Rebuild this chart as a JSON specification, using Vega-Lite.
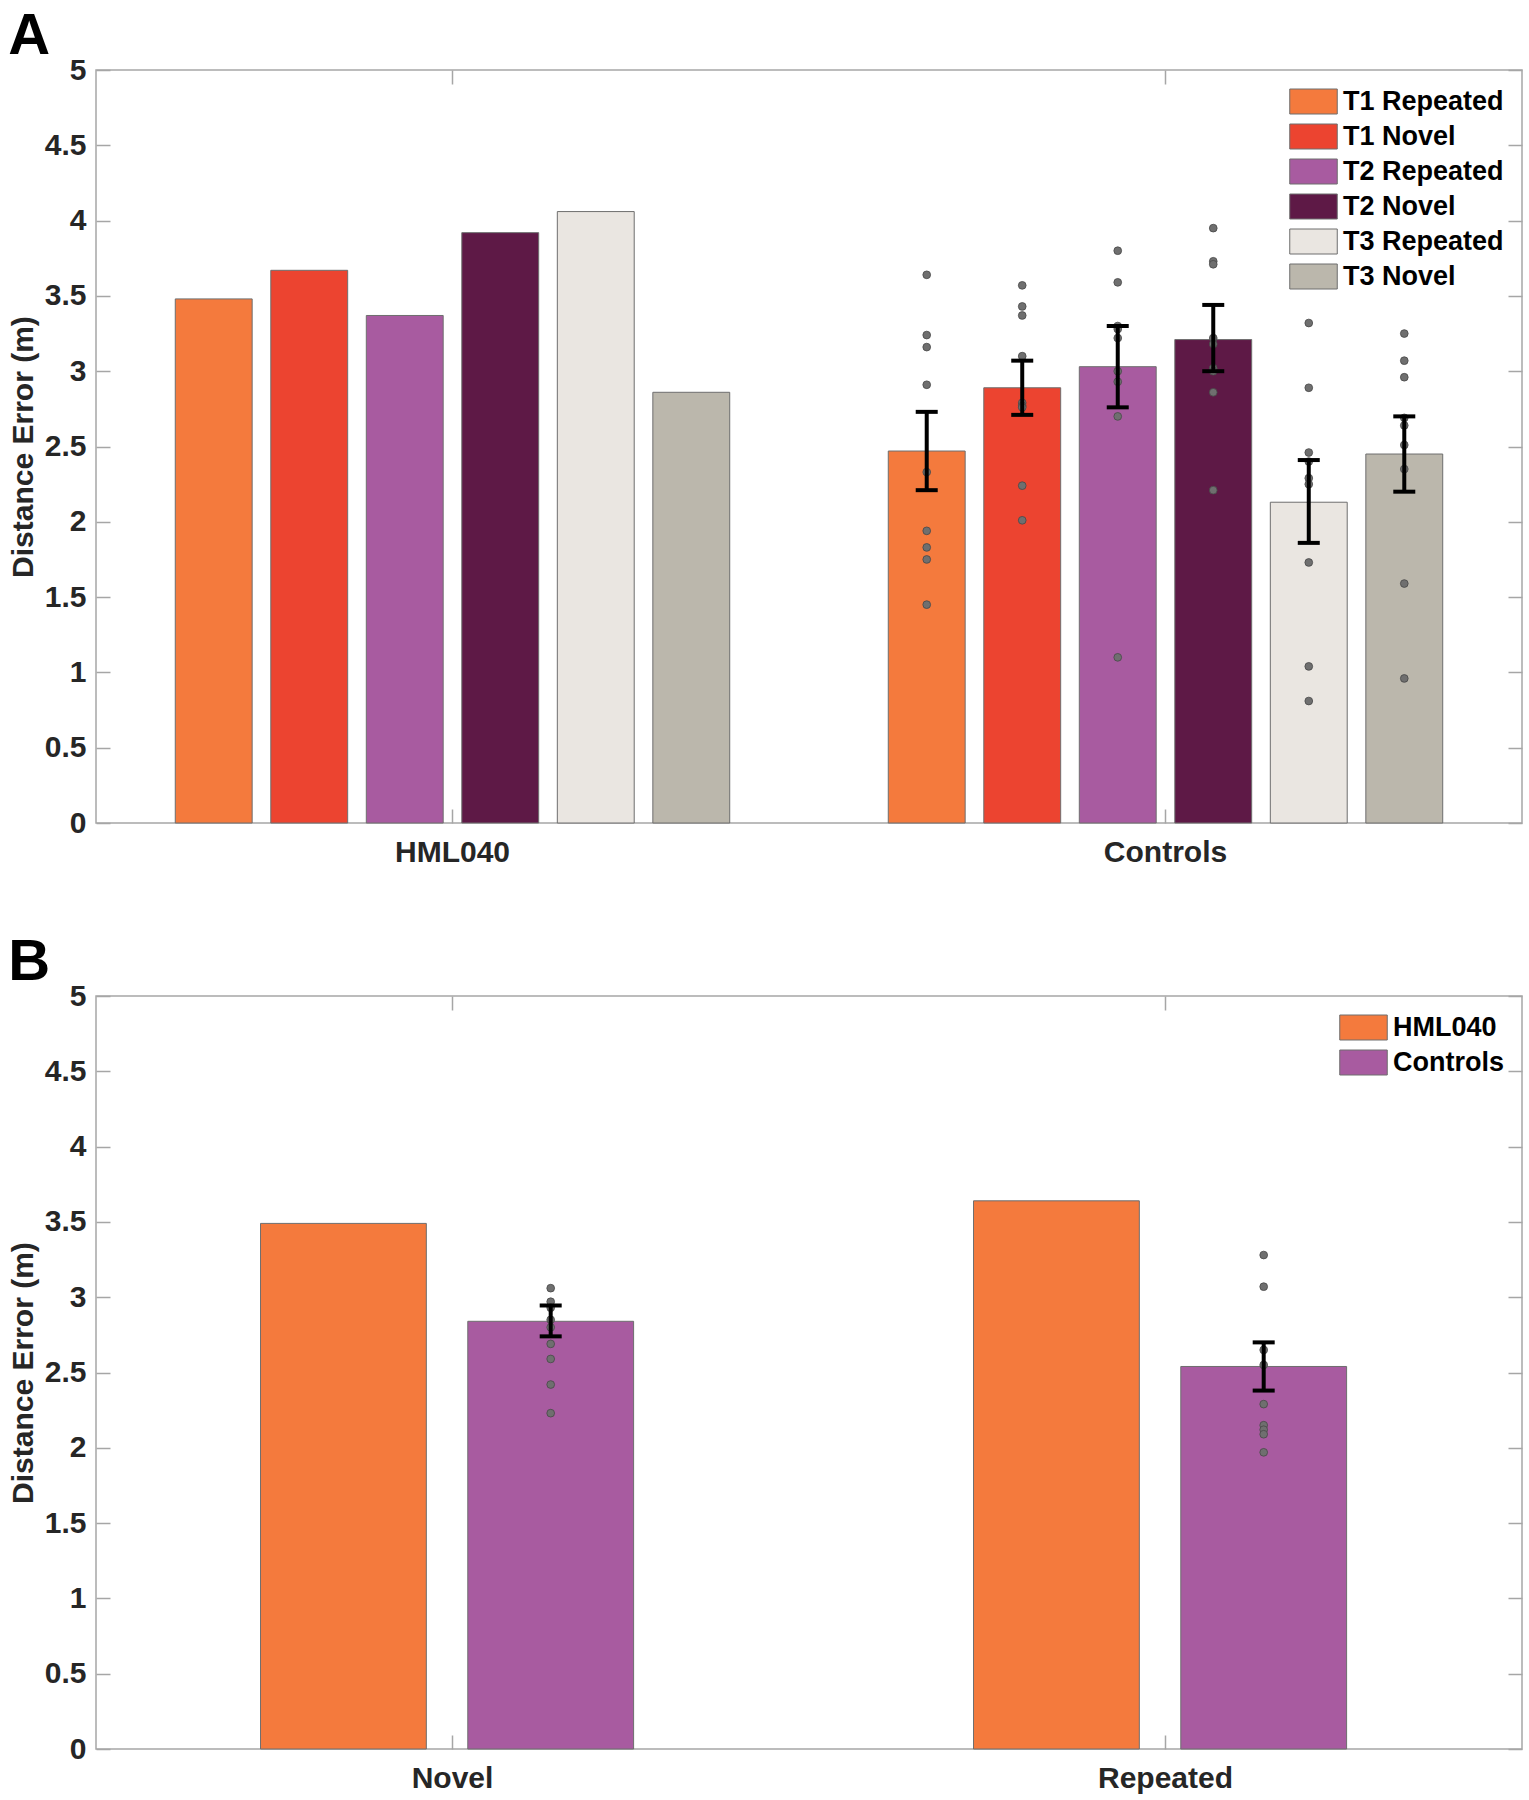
{
  "$schema": "https://vega.github.io/schema/vega-lite/v6.json",
  "padding": {"left": 7, "top": 7, "right": 5, "bottom": 4},
  "background": "white",
  "spacing": 65,
  "config": {
    "font": "Liberation Sans",
    "view": {"stroke": "#a6a6a6", "strokeWidth": 1.5},
    "axis": {"labelFont": "Liberation Sans", "labelFontWeight": "bold", "labelFontSize": 30, "labelColor": "#262626", "titleFont": "Liberation Sans", "titleFontSize": 30, "titleFontWeight": "bold", "titleColor": "#262626", "tickColor": "#a6a6a6", "tickWidth": 1.5, "grid": false, "domain": false},
    "title": {"font": "Liberation Sans", "fontSize": 58, "fontWeight": "bold", "anchor": "start", "frame": "bounds", "color": "#000000", "baseline": "alphabetic", "offset": -11},
    "legend": {"labelFont": "Liberation Sans", "labelFontSize": 27, "labelFontWeight": "bold", "labelColor": "#000000", "labelLimit": 0, "symbolType": "M-1.9,-1H1.9V1H-1.9Z", "symbolSize": 625, "symbolStrokeColor": "#6e6e6e", "symbolStrokeWidth": 1, "labelOffset": 16, "rowPadding": 6, "padding": 0, "offset": 18, "orient": "top-right"}
  },
  "resolve": {"scale": {"color": "independent", "xOffset": "independent"}, "legend": {"color": "independent"}},
  "datasets": {
    "a_bars": [
      {"subject": "HML040", "trial": "T1 Repeated", "mean": 3.48},
      {"subject": "HML040", "trial": "T1 Novel", "mean": 3.67},
      {"subject": "HML040", "trial": "T2 Repeated", "mean": 3.37},
      {"subject": "HML040", "trial": "T2 Novel", "mean": 3.92},
      {"subject": "HML040", "trial": "T3 Repeated", "mean": 4.06},
      {"subject": "HML040", "trial": "T3 Novel", "mean": 2.86},
      {"subject": "Controls", "trial": "T1 Repeated", "mean": 2.47},
      {"subject": "Controls", "trial": "T1 Novel", "mean": 2.89},
      {"subject": "Controls", "trial": "T2 Repeated", "mean": 3.03},
      {"subject": "Controls", "trial": "T2 Novel", "mean": 3.21},
      {"subject": "Controls", "trial": "T3 Repeated", "mean": 2.13},
      {"subject": "Controls", "trial": "T3 Novel", "mean": 2.45}
    ],
    "a_err": [
      {"subject": "Controls", "trial": "T1 Repeated", "lo": 2.21, "hi": 2.73},
      {"subject": "Controls", "trial": "T1 Novel", "lo": 2.71, "hi": 3.07},
      {"subject": "Controls", "trial": "T2 Repeated", "lo": 2.76, "hi": 3.30},
      {"subject": "Controls", "trial": "T2 Novel", "lo": 3.00, "hi": 3.44},
      {"subject": "Controls", "trial": "T3 Repeated", "lo": 1.86, "hi": 2.41},
      {"subject": "Controls", "trial": "T3 Novel", "lo": 2.20, "hi": 2.70}
    ],
    "a_pts": [
      {"subject": "Controls", "trial": "T1 Repeated", "value": 3.64},
      {"subject": "Controls", "trial": "T1 Repeated", "value": 3.24},
      {"subject": "Controls", "trial": "T1 Repeated", "value": 3.16},
      {"subject": "Controls", "trial": "T1 Repeated", "value": 2.91},
      {"subject": "Controls", "trial": "T1 Repeated", "value": 2.33},
      {"subject": "Controls", "trial": "T1 Repeated", "value": 1.94},
      {"subject": "Controls", "trial": "T1 Repeated", "value": 1.83},
      {"subject": "Controls", "trial": "T1 Repeated", "value": 1.75},
      {"subject": "Controls", "trial": "T1 Repeated", "value": 1.45},
      {"subject": "Controls", "trial": "T1 Novel", "value": 3.57},
      {"subject": "Controls", "trial": "T1 Novel", "value": 3.43},
      {"subject": "Controls", "trial": "T1 Novel", "value": 3.37},
      {"subject": "Controls", "trial": "T1 Novel", "value": 3.10},
      {"subject": "Controls", "trial": "T1 Novel", "value": 2.79},
      {"subject": "Controls", "trial": "T1 Novel", "value": 2.77},
      {"subject": "Controls", "trial": "T1 Novel", "value": 2.76},
      {"subject": "Controls", "trial": "T1 Novel", "value": 2.24},
      {"subject": "Controls", "trial": "T1 Novel", "value": 2.01},
      {"subject": "Controls", "trial": "T2 Repeated", "value": 3.80},
      {"subject": "Controls", "trial": "T2 Repeated", "value": 3.59},
      {"subject": "Controls", "trial": "T2 Repeated", "value": 3.30},
      {"subject": "Controls", "trial": "T2 Repeated", "value": 3.28},
      {"subject": "Controls", "trial": "T2 Repeated", "value": 3.22},
      {"subject": "Controls", "trial": "T2 Repeated", "value": 3.00},
      {"subject": "Controls", "trial": "T2 Repeated", "value": 2.93},
      {"subject": "Controls", "trial": "T2 Repeated", "value": 2.70},
      {"subject": "Controls", "trial": "T2 Repeated", "value": 1.10},
      {"subject": "Controls", "trial": "T2 Novel", "value": 3.95},
      {"subject": "Controls", "trial": "T2 Novel", "value": 3.73},
      {"subject": "Controls", "trial": "T2 Novel", "value": 3.71},
      {"subject": "Controls", "trial": "T2 Novel", "value": 3.22},
      {"subject": "Controls", "trial": "T2 Novel", "value": 3.18},
      {"subject": "Controls", "trial": "T2 Novel", "value": 3.02},
      {"subject": "Controls", "trial": "T2 Novel", "value": 3.00},
      {"subject": "Controls", "trial": "T2 Novel", "value": 2.86},
      {"subject": "Controls", "trial": "T2 Novel", "value": 2.21},
      {"subject": "Controls", "trial": "T3 Repeated", "value": 3.32},
      {"subject": "Controls", "trial": "T3 Repeated", "value": 2.89},
      {"subject": "Controls", "trial": "T3 Repeated", "value": 2.46},
      {"subject": "Controls", "trial": "T3 Repeated", "value": 2.40},
      {"subject": "Controls", "trial": "T3 Repeated", "value": 2.29},
      {"subject": "Controls", "trial": "T3 Repeated", "value": 2.25},
      {"subject": "Controls", "trial": "T3 Repeated", "value": 1.73},
      {"subject": "Controls", "trial": "T3 Repeated", "value": 1.04},
      {"subject": "Controls", "trial": "T3 Repeated", "value": 0.81},
      {"subject": "Controls", "trial": "T3 Novel", "value": 3.25},
      {"subject": "Controls", "trial": "T3 Novel", "value": 3.07},
      {"subject": "Controls", "trial": "T3 Novel", "value": 2.96},
      {"subject": "Controls", "trial": "T3 Novel", "value": 2.69},
      {"subject": "Controls", "trial": "T3 Novel", "value": 2.64},
      {"subject": "Controls", "trial": "T3 Novel", "value": 2.51},
      {"subject": "Controls", "trial": "T3 Novel", "value": 2.35},
      {"subject": "Controls", "trial": "T3 Novel", "value": 1.59},
      {"subject": "Controls", "trial": "T3 Novel", "value": 0.96}
    ],
    "b_bars": [
      {"type": "Novel", "subject": "HML040", "mean": 3.49},
      {"type": "Novel", "subject": "Controls", "mean": 2.84},
      {"type": "Repeated", "subject": "HML040", "mean": 3.64},
      {"type": "Repeated", "subject": "Controls", "mean": 2.54}
    ],
    "b_err": [
      {"type": "Novel", "subject": "Controls", "lo": 2.74, "hi": 2.945},
      {"type": "Repeated", "subject": "Controls", "lo": 2.38, "hi": 2.70}
    ],
    "b_pts": [
      {"type": "Novel", "subject": "Controls", "value": 3.06},
      {"type": "Novel", "subject": "Controls", "value": 2.97},
      {"type": "Novel", "subject": "Controls", "value": 2.93},
      {"type": "Novel", "subject": "Controls", "value": 2.85},
      {"type": "Novel", "subject": "Controls", "value": 2.80},
      {"type": "Novel", "subject": "Controls", "value": 2.69},
      {"type": "Novel", "subject": "Controls", "value": 2.59},
      {"type": "Novel", "subject": "Controls", "value": 2.42},
      {"type": "Novel", "subject": "Controls", "value": 2.23},
      {"type": "Repeated", "subject": "Controls", "value": 3.28},
      {"type": "Repeated", "subject": "Controls", "value": 3.07},
      {"type": "Repeated", "subject": "Controls", "value": 2.65},
      {"type": "Repeated", "subject": "Controls", "value": 2.55},
      {"type": "Repeated", "subject": "Controls", "value": 2.29},
      {"type": "Repeated", "subject": "Controls", "value": 2.15},
      {"type": "Repeated", "subject": "Controls", "value": 2.12},
      {"type": "Repeated", "subject": "Controls", "value": 2.09},
      {"type": "Repeated", "subject": "Controls", "value": 1.97}
    ]
  },
  "vconcat": [
    {
      "title": {"text": "A"},
      "width": 1426,
      "height": 753,
      "resolve": {"axis": {"x": "independent", "y": "independent"}},
      "layer": [
        {
          "data": {"name": "a_bars"},
          "mark": {"type": "bar", "stroke": "#6e6e6e", "strokeWidth": 1},
          "encoding": {
            "x": {"field": "subject", "type": "nominal", "scale": {"domain": ["HML040", "Controls"], "paddingInner": 0, "paddingOuter": 0}, "axis": {"title": null, "labelAngle": 0, "tickSize": -14, "labelPadding": 28}},
            "xOffset": {"field": "trial", "type": "nominal", "scale": {"domain": ["T1 Repeated", "T1 Novel", "T2 Repeated", "T2 Novel", "T3 Repeated", "T3 Novel"], "paddingInner": 0.195, "paddingOuter": 0.83}},
            "y": {"field": "mean", "type": "quantitative", "scale": {"domain": [0, 5], "nice": false}, "axis": {"title": "Distance Error (m)", "values": [0, 0.5, 1, 1.5, 2, 2.5, 3, 3.5, 4, 4.5, 5], "format": "~g", "tickSize": -14, "labelPadding": 24, "titlePadding": 6}},
            "color": {"field": "trial", "type": "nominal", "scale": {"domain": ["T1 Repeated", "T1 Novel", "T2 Repeated", "T2 Novel", "T3 Repeated", "T3 Novel"], "range": ["#F47A3D", "#EC4430", "#A85BA0", "#5E1946", "#EAE6E1", "#BBB7AC"]}, "legend": {"title": null}}
          }
        },
        {
          "data": {"name": "a_pts"},
          "mark": {"type": "point", "filled": true, "fill": "#6f6f6f", "stroke": "#474747", "strokeWidth": 0.8, "size": 60, "opacity": 1},
          "encoding": {
            "x": {"field": "subject", "type": "nominal", "axis": {"orient": "top", "title": null, "labels": false, "tickSize": -14}},
            "xOffset": {"field": "trial", "type": "nominal"},
            "y": {"field": "value", "type": "quantitative", "axis": {"orient": "right", "title": null, "labels": false, "values": [0, 0.5, 1, 1.5, 2, 2.5, 3, 3.5, 4, 4.5, 5], "tickSize": -14}}
          }
        },
        {
          "data": {"name": "a_err"},
          "mark": {"type": "rule", "color": "#000000", "strokeWidth": 4},
          "encoding": {
            "x": {"field": "subject", "type": "nominal", "axis": null},
            "xOffset": {"field": "trial", "type": "nominal"},
            "y": {"field": "lo", "type": "quantitative", "axis": null},
            "y2": {"field": "hi"}
          }
        },
        {
          "data": {"name": "a_err"},
          "mark": {"type": "tick", "color": "#000000", "size": 22, "thickness": 4, "opacity": 1},
          "encoding": {
            "x": {"field": "subject", "type": "nominal", "axis": null},
            "xOffset": {"field": "trial", "type": "nominal"},
            "y": {"field": "lo", "type": "quantitative", "axis": null}
          }
        },
        {
          "data": {"name": "a_err"},
          "mark": {"type": "tick", "color": "#000000", "size": 22, "thickness": 4, "opacity": 1},
          "encoding": {
            "x": {"field": "subject", "type": "nominal", "axis": null},
            "xOffset": {"field": "trial", "type": "nominal"},
            "y": {"field": "hi", "type": "quantitative", "axis": null}
          }
        }
      ]
    },
    {
      "title": {"text": "B"},
      "width": 1426,
      "height": 753,
      "resolve": {"axis": {"x": "independent", "y": "independent"}},
      "layer": [
        {
          "data": {"name": "b_bars"},
          "mark": {"type": "bar", "stroke": "#6e6e6e", "strokeWidth": 1},
          "encoding": {
            "x": {"field": "type", "type": "nominal", "scale": {"domain": ["Novel", "Repeated"], "paddingInner": 0, "paddingOuter": 0}, "axis": {"title": null, "labelAngle": 0, "tickSize": -14, "labelPadding": 28}},
            "xOffset": {"field": "subject", "type": "nominal", "scale": {"domain": ["HML040", "Controls"], "paddingInner": 0.2, "paddingOuter": 0.82, "align": 0.484}},
            "y": {"field": "mean", "type": "quantitative", "scale": {"domain": [0, 5], "nice": false}, "axis": {"title": "Distance Error (m)", "values": [0, 0.5, 1, 1.5, 2, 2.5, 3, 3.5, 4, 4.5, 5], "format": "~g", "tickSize": -14, "labelPadding": 24, "titlePadding": 6}},
            "color": {"field": "subject", "type": "nominal", "scale": {"domain": ["HML040", "Controls"], "range": ["#F47A3D", "#A85BA0"]}, "legend": {"title": null}}
          }
        },
        {
          "data": {"name": "b_pts"},
          "mark": {"type": "point", "filled": true, "fill": "#6f6f6f", "stroke": "#474747", "strokeWidth": 0.8, "size": 60, "opacity": 1},
          "encoding": {
            "x": {"field": "type", "type": "nominal", "axis": {"orient": "top", "title": null, "labels": false, "tickSize": -14}},
            "xOffset": {"field": "subject", "type": "nominal"},
            "y": {"field": "value", "type": "quantitative", "axis": {"orient": "right", "title": null, "labels": false, "values": [0, 0.5, 1, 1.5, 2, 2.5, 3, 3.5, 4, 4.5, 5], "tickSize": -14}}
          }
        },
        {
          "data": {"name": "b_err"},
          "mark": {"type": "rule", "color": "#000000", "strokeWidth": 4},
          "encoding": {
            "x": {"field": "type", "type": "nominal", "axis": null},
            "xOffset": {"field": "subject", "type": "nominal"},
            "y": {"field": "lo", "type": "quantitative", "axis": null},
            "y2": {"field": "hi"}
          }
        },
        {
          "data": {"name": "b_err"},
          "mark": {"type": "tick", "color": "#000000", "size": 22, "thickness": 4, "opacity": 1},
          "encoding": {
            "x": {"field": "type", "type": "nominal", "axis": null},
            "xOffset": {"field": "subject", "type": "nominal"},
            "y": {"field": "lo", "type": "quantitative", "axis": null}
          }
        },
        {
          "data": {"name": "b_err"},
          "mark": {"type": "tick", "color": "#000000", "size": 22, "thickness": 4, "opacity": 1},
          "encoding": {
            "x": {"field": "type", "type": "nominal", "axis": null},
            "xOffset": {"field": "subject", "type": "nominal"},
            "y": {"field": "hi", "type": "quantitative", "axis": null}
          }
        }
      ]
    }
  ]
}
